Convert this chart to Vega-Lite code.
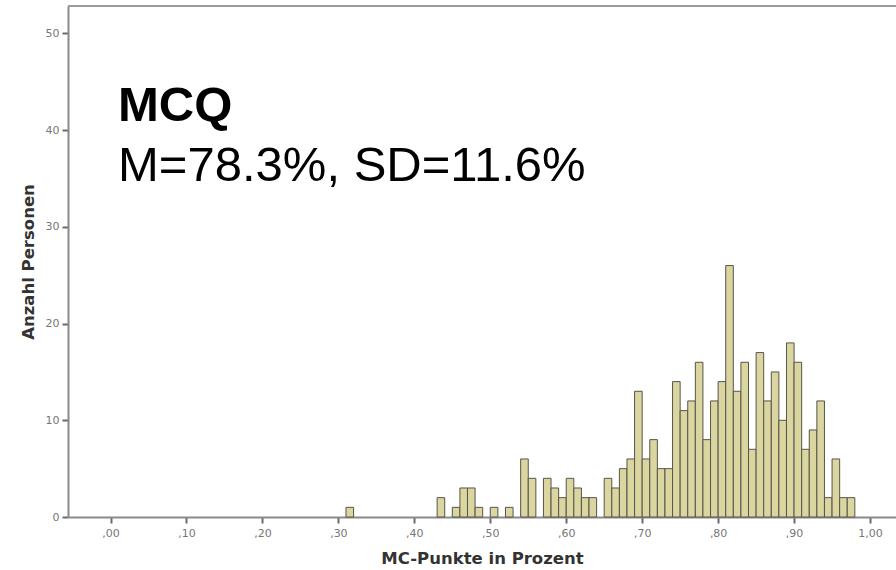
{
  "$schema": "https://vega.github.io/schema/vega-lite/v6.json",
  "autosize": "none",
  "width": 828,
  "height": 511,
  "padding": {"left": 68, "top": 6, "right": 0, "bottom": 53},
  "background": "white",
  "config": {
    "view": {"stroke": null},
    "axis": {
      "labelFont": "DejaVu Sans",
      "labelFontSize": 11,
      "labelColor": "#777777",
      "titleFont": "DejaVu Sans",
      "titleFontWeight": "bold",
      "titleColor": "#333333",
      "titleFontSize": 16.5,
      "domainColor": "#8a8a8a",
      "domainWidth": 2,
      "tickColor": "#6a6a6a",
      "tickWidth": 2,
      "tickSize": 6,
      "grid": false
    }
  },
  "datasets": {
    "bins": [
      {"start": 0.31, "end": 0.32, "n": 1},
      {"start": 0.43, "end": 0.44, "n": 2},
      {"start": 0.45, "end": 0.46, "n": 1},
      {"start": 0.46, "end": 0.47, "n": 3},
      {"start": 0.47, "end": 0.48, "n": 3},
      {"start": 0.48, "end": 0.49, "n": 1},
      {"start": 0.50, "end": 0.51, "n": 1},
      {"start": 0.52, "end": 0.53, "n": 1},
      {"start": 0.54, "end": 0.55, "n": 6},
      {"start": 0.55, "end": 0.56, "n": 4},
      {"start": 0.57, "end": 0.58, "n": 4},
      {"start": 0.58, "end": 0.59, "n": 3},
      {"start": 0.59, "end": 0.60, "n": 2},
      {"start": 0.60, "end": 0.61, "n": 4},
      {"start": 0.61, "end": 0.62, "n": 3},
      {"start": 0.62, "end": 0.63, "n": 2},
      {"start": 0.63, "end": 0.64, "n": 2},
      {"start": 0.65, "end": 0.66, "n": 4},
      {"start": 0.66, "end": 0.67, "n": 3},
      {"start": 0.67, "end": 0.68, "n": 5},
      {"start": 0.68, "end": 0.69, "n": 6},
      {"start": 0.69, "end": 0.70, "n": 13},
      {"start": 0.70, "end": 0.71, "n": 6},
      {"start": 0.71, "end": 0.72, "n": 8},
      {"start": 0.72, "end": 0.73, "n": 5},
      {"start": 0.73, "end": 0.74, "n": 5},
      {"start": 0.74, "end": 0.75, "n": 14},
      {"start": 0.75, "end": 0.76, "n": 11},
      {"start": 0.76, "end": 0.77, "n": 12},
      {"start": 0.77, "end": 0.78, "n": 16},
      {"start": 0.78, "end": 0.79, "n": 8},
      {"start": 0.79, "end": 0.80, "n": 12},
      {"start": 0.80, "end": 0.81, "n": 14},
      {"start": 0.81, "end": 0.82, "n": 26},
      {"start": 0.82, "end": 0.83, "n": 13},
      {"start": 0.83, "end": 0.84, "n": 16},
      {"start": 0.84, "end": 0.85, "n": 7},
      {"start": 0.85, "end": 0.86, "n": 17},
      {"start": 0.86, "end": 0.87, "n": 12},
      {"start": 0.87, "end": 0.88, "n": 15},
      {"start": 0.88, "end": 0.89, "n": 10},
      {"start": 0.89, "end": 0.90, "n": 18},
      {"start": 0.90, "end": 0.91, "n": 16},
      {"start": 0.91, "end": 0.92, "n": 7},
      {"start": 0.92, "end": 0.93, "n": 9},
      {"start": 0.93, "end": 0.94, "n": 12},
      {"start": 0.94, "end": 0.95, "n": 2},
      {"start": 0.95, "end": 0.96, "n": 6},
      {"start": 0.96, "end": 0.97, "n": 2},
      {"start": 0.97, "end": 0.98, "n": 2}
    ]
  },
  "layer": [
    {
      "data": {"name": "bins"},
      "mark": {"type": "rect", "fill": "#dbd5a0", "stroke": "#55554c", "strokeWidth": 1},
      "encoding": {
        "x": {
          "field": "start",
          "type": "quantitative",
          "scale": {"domain": [-0.056, 1.0342], "nice": false, "zero": false},
          "axis": {
            "title": "MC-Punkte in Prozent",
            "values": [0, 0.1, 0.2, 0.3, 0.4, 0.5, 0.6, 0.7, 0.8, 0.9, 1.0],
            "labelExpr": "datum.value < 1 ? replace(format(datum.value, '.2f'), '0.', ',') : replace(format(datum.value, '.2f'), '.', ',')",
            "labelPadding": 4,
            "titlePadding": 12
          }
        },
        "x2": {"field": "end"},
        "y": {
          "field": "n",
          "type": "quantitative",
          "scale": {"domain": [0, 52.84], "nice": false},
          "axis": {
            "title": "Anzahl Personen",
            "values": [0, 10, 20, 30, 40, 50],
            "labelPadding": 3,
            "titlePadding": 9
          }
        },
        "y2": {"datum": 0}
      }
    },
    {
      "data": {"values": [{}]},
      "mark": {"type": "rule", "color": "#9a9a9a", "strokeWidth": 2},
      "encoding": {"y": {"datum": 52.84}}
    },
    {
      "data": {"values": [{}]},
      "mark": {"type": "text", "text": "MCQ", "font": "Liberation Sans", "fontWeight": "bold", "fontSize": 49, "align": "left", "baseline": "alphabetic", "color": "#000000"},
      "encoding": {"x": {"datum": 0.0099}, "y": {"datum": 41.0}}
    },
    {
      "data": {"values": [{}]},
      "mark": {"type": "text", "text": "M=78.3%, SD=11.6%", "font": "Liberation Sans", "fontSize": 49, "align": "left", "baseline": "alphabetic", "color": "#000000"},
      "encoding": {"x": {"datum": 0.0099}, "y": {"datum": 34.7}}
    }
  ]
}
